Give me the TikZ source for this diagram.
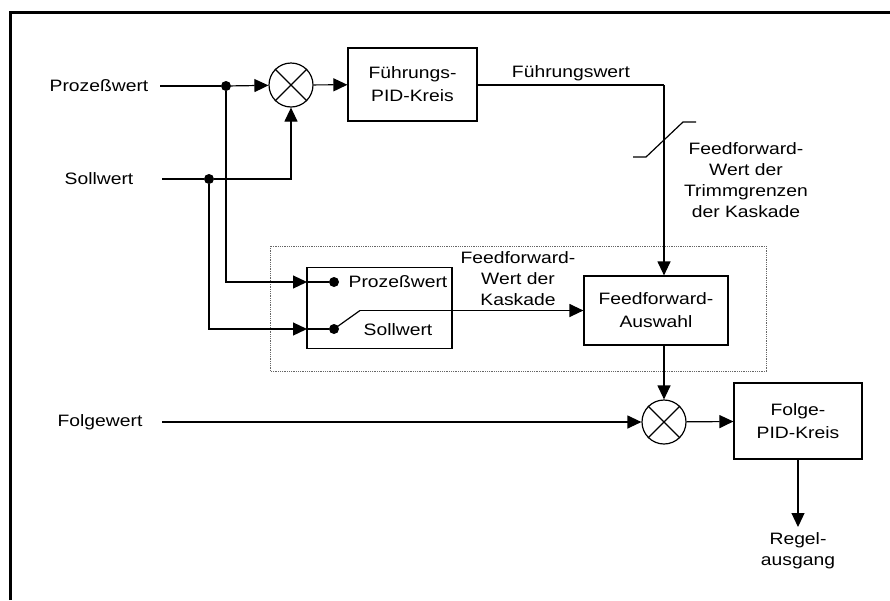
\documentclass[tikz,border=0pt]{standalone}
\usepackage{fontspec}
\setmainfont{Liberation Sans}[FakeStretch=1.17]
\usetikzlibrary{arrows.meta}
\usetikzlibrary{positioning}

\tikzset{
  lbl/.style={font=\fontsize{16.5}{21}\selectfont, align=center, inner sep=0pt},
  block/.style={draw, line width=1.2pt, inner sep=0pt, font=\fontsize{16.5}{23}\selectfont, align=center},
  mixer/.style={draw, circle, minimum size=44pt, inner sep=0pt, line width=1.2pt},
  wire/.style={line width=1.2pt},
  flow/.style={line width=1.2pt, -{Triangle[length=14pt,width=13pt]}},
  junction/.style={circle, fill=black, inner sep=0pt, minimum size=10pt}
}

\begin{document}
\begin{tikzpicture}[x=1pt,y=-1pt]
\useasboundingbox (0,0) rectangle (890,600);
% frame
\draw[line width=3pt] (10.5,600) -- (10.5,12.5) -- (890,12.5);

% inputs
\node[lbl] (pw) at (99,86) {Prozeßwert};
\node[lbl] (sw) at (99,179) {Sollwert};
\node[lbl] (fw) at (100,422) {Folgewert};
\coordinate (pwin) at (160,86);
\coordinate (swin) at (162,179);
\coordinate (fwin) at (162,422);
\node[junction] (j1) at (226,86) {};
\node[junction] (j2) at (209,179) {};

% master loop
\node[mixer] (m1) at (291,85) {};
\draw[wire] (m1.north west) -- (m1.south east) (m1.north east) -- (m1.south west);
\node[block, minimum width=129pt, minimum height=73pt] (fpid) at (412.5,84.5) {Führungs-\\PID-Kreis};

\draw[wire] (pwin) -- (j1);
\draw[flow] (j1) -- (m1);
\draw[wire] (swin) -- (j2);
\draw[flow] (j2) -| (m1);
\draw[flow] (m1) -- (fpid);

% Führungswert
\coordinate (fwk) at (664,85);
\draw[wire] (fpid.east |- fwk) -- (fwk);
\node[lbl] (fwlbl) at (571,73) {Führungswert};
\draw[wire] (633,157) -- (646,157) -- (683,122) -- (696,122);
\node[lbl] (trim) at (746,180) {Feedforward-\\Wert der\\Trimmgrenzen\\der Kaskade};

% feedforward selection
\draw[densely dotted, gray!80!black, line width=0.8pt] (270,246) rectangle (766,371);
\node[block, minimum width=145pt, minimum height=81pt] (sel) at (379.5,308) {};
\coordinate (pin) at (307,282);
\coordinate (sin) at (307,329);
\node[junction] (pdot) at (334,282) {};
\node[junction] (sdot) at (334,329) {};
\node[lbl] (selpw) at (398,282) {Prozeßwert};
\node[lbl] (selsw) at (398,330) {Sollwert};
\draw[flow] (j1) |- (pin);
\draw[flow] (j2) |- (sin);
\draw[wire] (pin) -- (pdot);
\draw[wire] (sin) -- (sdot);
\coordinate (swk) at (360,310.5);
\draw[wire] (sdot.center) -- (swk);
\node[lbl] (ffk) at (518,279) {Feedforward-\\Wert der\\Kaskade};
\node[block, minimum width=144pt, minimum height=69pt] (ffa) at (656,310.5) {Feedforward-\\Auswahl};
\draw[flow] (swk) -- (ffa.west);
\draw[flow] (fwk) -- (fwk |- ffa.north);

% slave loop
\node[mixer] (m2) at (664,422) {};
\draw[wire] (m2.north west) -- (m2.south east) (m2.north east) -- (m2.south west);
\node[block, minimum width=128pt, minimum height=76pt] (fopid) at (798,421) {Folge-\\PID-Kreis};
\coordinate (rout) at (798,527);
\node[lbl] (rlbl) at (798,551) {Regel-\\ausgang};
\draw[flow] (fwk |- ffa.south) -- (m2);
\draw[flow] (fwin) -- (m2);
\draw[flow] (m2) -- (fopid);
\draw[flow] (fopid) -- (rout);
\end{tikzpicture}
\end{document}
